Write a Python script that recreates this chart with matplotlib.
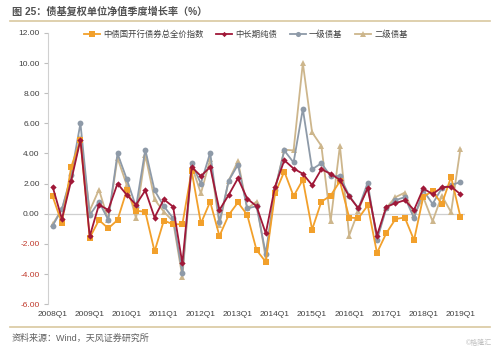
import matplotlib
matplotlib.use("Agg")
import matplotlib.pyplot as plt
from matplotlib.lines import Line2D

plt.rcParams['font.family'] = ['Liberation Sans', 'Noto Sans CJK SC', 'DejaVu Sans']

# quarters 2008Q1 .. 2019Q1
quarters = [f"{y}Q{q}" for y in range(2008, 2020) for q in range(1, 5)][:45]

cdb_index = [1.15, -0.63, 3.1, 4.9, -1.6, -0.42, -0.97, -0.42, 1.55, 0.2,
             0.13, -2.5, -0.45, -0.7, -0.7, 2.85, -0.64, 0.8, -1.48, -0.08,
             0.75, -0.08, -2.4, -3.2, 1.35, 2.8, 1.17, 2.25, -1.05, 0.8,
             1.2, 2.15, -0.25, -0.3, 0.55, -2.6, -1.3, -0.35, -0.25, -1.75,
             1.13, 1.5, 0.64, 2.45, -0.2]
pure_bond = [1.8, -0.35, 2.2, 4.9, -1.5, 0.6, 0.25, 2.0, 1.25, 0.6,
             1.55, -0.25, 0.95, 0.47, -3.3, 3.1, 2.5, 3.1, 0.25, 1.25,
             2.35, 1.0, 0.5, -1.3, 1.8, 3.55, 3.0, 2.65, 1.9, 2.95,
             2.65, 2.25, 1.15, 0.35, 1.7, -1.45, 0.45, 0.7, 0.9, 0.25,
             1.68, 1.3, 1.75, 1.8, 1.3]
primary_fund = [-0.8, 0.3, 2.55, 6.0, -0.1, 0.8, -0.4, 4.0, 2.3, 0.45,
                4.25, 1.55, 0.5, -0.3, -3.95, 3.35, 2.0, 4.05, -0.55, 2.2,
                3.25, 0.35, 0.5, -2.65, 1.6, 4.2, 3.4, 6.95, 2.95, 3.35,
                2.5, 2.5, 1.2, 0.35, 2.06, -1.75, 0.35, 0.9, 1.1, -0.3,
                1.55, 0.65, 1.7, 1.9, 2.1]
secondary_fund = [-0.7, 0.3, 2.4, 5.0, 0.2, 1.6, -0.4, 3.7, 1.9, -0.3,
                  3.9, 0.95, 0.13, -0.5, -4.2, 3.2, 1.35, 3.6, -0.75, 2.2,
                  3.5, 0.35, 0.8, -3.0, 1.6, 4.25, 4.2, 10.0, 5.4, 4.5,
                  -0.5, 4.5, -1.45, 0.2, 1.8, -1.6, 0.4, 1.1, 1.4, -0.1,
                  1.1, -0.5, 1.2, 0.1, 4.3]

names = ["中债国开行债券总全价指数", "中长期纯债", "一级债基", "二级债基"]
colors = ["#F2A02B", "#A01838", "#8E9AA8", "#CDB68C"]
markers = ["s", "D", "o", "^"]
msizes = [4.5, 3.2, 4.2, 4.5]

fig = plt.figure(figsize=(5, 3.5), dpi=100)
ax = fig.add_axes([0.096, 0.131, 0.834, 0.775])

x = list(range(len(quarters)))
series = [cdb_index, pure_bond, primary_fund, secondary_fund]
# back to front, dark red on top
for k, z in zip([3, 2, 0, 1], [3, 4, 5, 6]):
    ax.plot(x, series[k], color=colors[k], marker=markers[k], markersize=msizes[k],
            lw=1.3, markeredgewidth=0, zorder=z)

ax.axhline(0, color="#cfcfcf", lw=0.9, zorder=1)
ax.set_xlim(-0.5, len(quarters) - 0.5)
ax.set_ylim(-6, 12)
yt = [-6, -4, -2, 0, 2, 4, 6, 8, 10, 12]
ax.set_yticks(yt)
ax.set_yticklabels([f"{v:.2f}" for v in yt], fontsize=6)
for lab, v in zip(ax.get_yticklabels(), yt):
    lab.set_color("#C0392B" if v < 0 else "#404040")
ax.set_xticks(x[::4])
ax.set_xticklabels(quarters[::4], fontsize=6, color="#404040")
ax.tick_params(axis="x", length=0, pad=5)
ax.tick_params(axis="y", length=3, color="#bfbfbf", pad=3)
for s in ["top", "right", "bottom"]:
    ax.spines[s].set_visible(False)
ax.spines["left"].set_color("#d0d0d0")
ax.spines["left"].set_linewidth(0.8)

handles = [Line2D([0], [0], color=colors[k], marker=markers[k], markersize=msizes[k] - 0.5,
                  lw=1.3, markeredgewidth=0) for k in range(4)]
fig.legend(handles, names, loc="center", bbox_to_anchor=(0.492, 0.9), ncol=4,
           frameon=False, fontsize=6, handlelength=1.9, handletextpad=0.4,
           columnspacing=1.5, labelcolor="#404040")

fig.text(0.024, 0.968, "图 25：债基复权单位净值季度增长率（%）", fontsize=7.3, fontweight="bold",
         color="#505050", va="center", ha="left")
fig.add_artist(Line2D([0.02, 0.98], [0.94, 0.94], color="#D9C8A0", lw=1.2))
fig.add_artist(Line2D([0.02, 0.98], [0.066, 0.066], color="#D9C8A0", lw=1.2))
fig.text(0.024, 0.034, "资料来源：Wind，天风证券研究所", fontsize=6.5, color="#606060",
         va="center", ha="left")
fig.text(0.985, 0.02, "©格隆汇", fontsize=5, color="#c0c0c0", va="center", ha="right")

fig.savefig("out.png", dpi=100)
